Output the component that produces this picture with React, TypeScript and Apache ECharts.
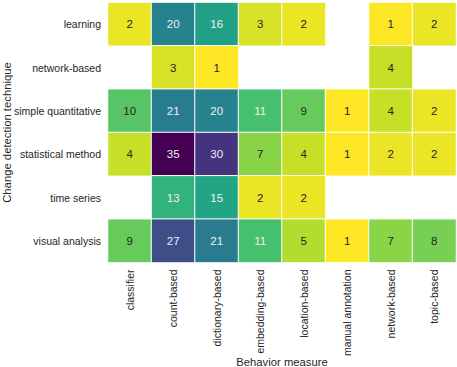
import React, { useEffect, useRef } from "react";
import * as echarts from "echarts";

const measures = [
  "classifier",
  "count-based",
  "dictionary-based",
  "embedding-based",
  "location-based",
  "manual annotation",
  "network-based",
  "topic-based",
];
const techniques = [
  "learning",
  "network-based",
  "simple quantitative",
  "statistical method",
  "time series",
  "visual analysis",
];
// null = empty cell
const learning = [2, 20, 16, 3, 2, null, 1, 2];
const networkBased = [null, 3, 1, null, null, null, 4, null];
const simpleQuantitative = [10, 21, 20, 11, 9, 1, 4, 2];
const statisticalMethod = [4, 35, 30, 7, 4, 1, 2, 2];
const timeSeries = [null, 13, 15, 2, 2, null, null, null];
const visualAnalysis = [9, 27, 21, 11, 5, 1, 7, 8];
const rows = [learning, networkBased, simpleQuantitative, statisticalMethod, timeSeries, visualAnalysis];

const viridisReversed = [
  "#fde725", "#bddf26", "#7ad151", "#44bf70", "#22a884", "#21918c",
  "#2a788e", "#355f8d", "#414487", "#482475", "#440154",
];

export default function App() {
  const ref = useRef<HTMLDivElement>(null);
  useEffect(() => {
    if (!ref.current) return;
    const chart = echarts.init(ref.current, undefined, { renderer: "svg" });
    const data: any[] = [];
    rows.forEach((row, yi) => {
      row.forEach((v, xi) => {
        if (v === null) return;
        data.push({
          value: [xi, yi, v],
          label: { color: v >= 11 ? "#f0f0f0" : "#262626" },
        });
      });
    });
    const font = "Liberation Sans, Arial, sans-serif";
    chart.setOption({
      animation: false,
      textStyle: { fontFamily: font },
      grid: { left: 108, right: 1, top: 2.5, bottom: 104.5, outerBoundsMode: "none", containLabel: false },
      xAxis: {
        type: "category",
        data: measures,
        axisLine: { show: false },
        axisTick: { show: false },
        splitLine: { show: false },
        axisLabel: { rotate: 90, margin: 7, fontSize: 10.5, color: "#262626", fontFamily: font },
        name: "Behavior measure",
        nameLocation: "middle",
        nameGap: 94,
        nameMoveOverlap: false,
        nameTextStyle: { fontSize: 11.3, color: "#262626", fontFamily: font },
      },
      yAxis: {
        type: "category",
        data: techniques,
        inverse: true,
        axisLine: { show: false },
        axisTick: { show: false },
        splitLine: { show: false },
        axisLabel: { margin: 7, fontSize: 10.5, color: "#262626", fontFamily: font },
        name: "Change detection technique",
        nameLocation: "middle",
        nameRotate: 90,
        nameGap: 96,
        nameMoveOverlap: false,
        nameTextStyle: { fontSize: 11.3, color: "#262626", fontFamily: font },
      },
      visualMap: {
        show: false,
        min: 1,
        max: 35,
        dimension: 2,
        inRange: { color: viridisReversed },
      },
      series: [
        {
          type: "heatmap",
          data,
          itemStyle: { borderColor: "#ffffff", borderWidth: 1 },
          label: { show: true, fontSize: 11.5, fontFamily: font },
          emphasis: { disabled: true },
        },
      ],
    });
    return () => chart.dispose();
  }, []);
  return (
    <div
      ref={ref}
      style={{ position: "fixed", left: 0, top: 0, width: 457, height: 367, background: "#fff" }}
    />
  );
}
